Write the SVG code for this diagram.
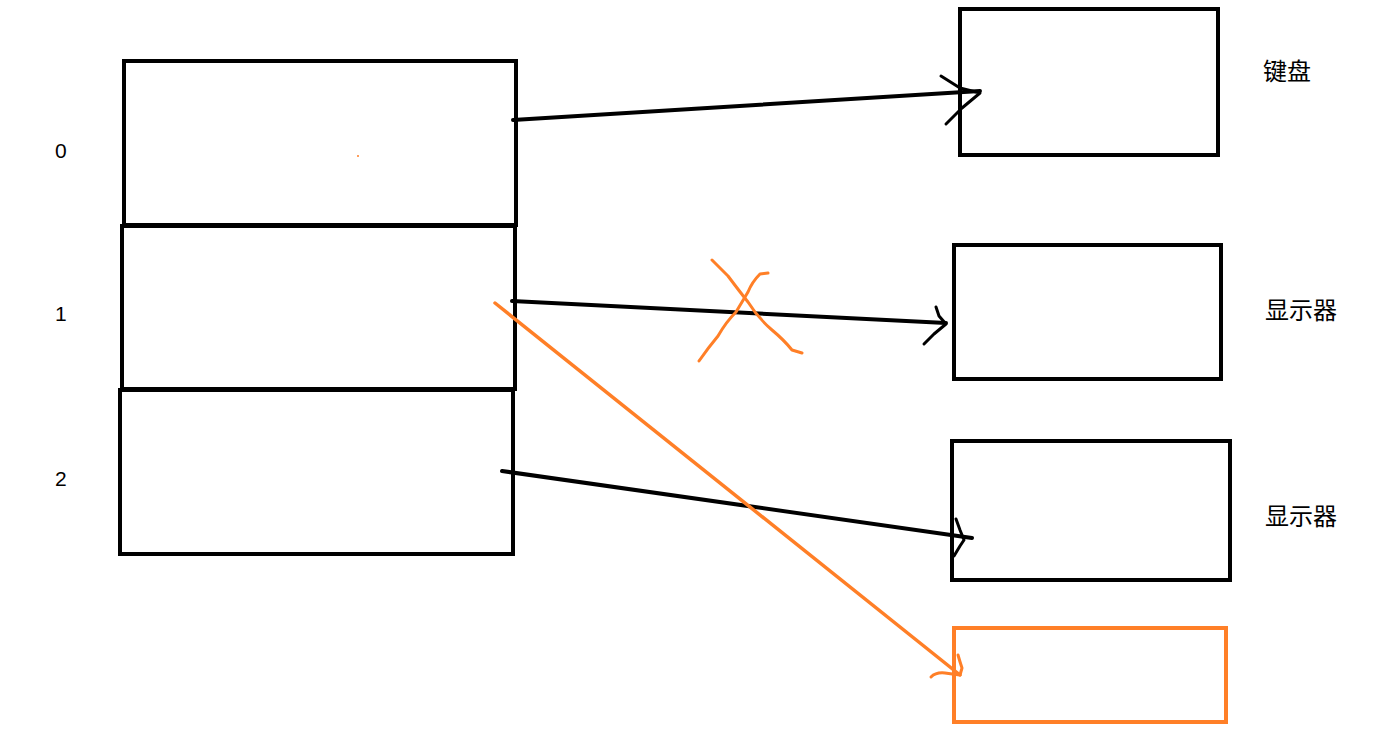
<svg xmlns="http://www.w3.org/2000/svg" width="1373" height="749" viewBox="0 0 1373 749">
<style>
.box{fill:none;stroke:#000;stroke-width:4}
.obox{fill:none;stroke:#FF7F27;stroke-width:4}
.ln{fill:none;stroke:#000;stroke-width:4;stroke-linecap:round;stroke-linejoin:round}
.hd{fill:none;stroke:#000;stroke-width:3;stroke-linecap:round;stroke-linejoin:round}
.oln{fill:none;stroke:#FF7F27;stroke-width:3;stroke-linecap:round;stroke-linejoin:round}
.num{font-family:"Liberation Sans","Noto Sans",sans-serif;font-size:21px;fill:#000}
.zh{font-family:"Noto Sans CJK SC","Noto Sans",sans-serif;font-size:24px;fill:#000}
</style>
<rect width="1373" height="749" fill="#fff"/>
<g id="slot0"><rect class="box" x="124" y="61" width="392" height="164"/><circle cx="358" cy="156" r="1" fill="#FF7F27"/></g>
<g id="slot1"><rect class="box" x="122" y="226" width="393" height="163"/></g>
<g id="slot2"><rect class="box" x="120" y="390" width="393" height="164"/></g>
<g id="labels">
<text class="num" x="55" y="158">0</text>
<text class="num" x="55" y="321">1</text>
<text class="num" x="55" y="486">2</text>
</g>
<g id="keyboard"><rect class="box" x="960" y="9" width="258" height="146"/><text class="zh" x="1263" y="80">键盘</text></g>
<g id="display1"><rect class="box" x="954" y="245" width="267" height="134"/><text class="zh" x="1265" y="319">显示器</text></g>
<g id="display2"><rect class="box" x="952" y="441" width="278" height="139"/><text class="zh" x="1265" y="525">显示器</text></g>
<g id="newfile"><rect class="obox" x="954" y="628" width="272" height="94"/></g>
<g id="connectors">
<path class="ln" d="M513 120 L980 91"/>
<path class="hd" d="M941 76 L960 88 L980 93 L962 108 L946 124"/>
<path class="ln" d="M512 301 L946 323"/>
<path class="hd" d="M936 307 L939 316 L946 324 L934 334 L924 344"/>
<path class="ln" d="M502 471 L972 538"/>
<path class="hd" d="M956 519 L960 530 L964 540 L960 546 L954 556"/>
<path class="oln" d="M495 303 L960 675" style="stroke-width:3.5"/>
<path class="oln" d="M931 677 Q936 672 945 673 Q952 674 960 675 L962 668 Q960 662 958 655"/>
<path class="oln" d="M712 260 Q720 268 728 276 Q740 292 748 302 Q758 318 772 330 Q784 340 792 350 L802 353"/>
<path class="oln" d="M768 273 L760 274 Q752 282 748 292 Q742 302 736 312 Q726 322 718 336 Q708 348 699 361"/>
</g>
</svg>
